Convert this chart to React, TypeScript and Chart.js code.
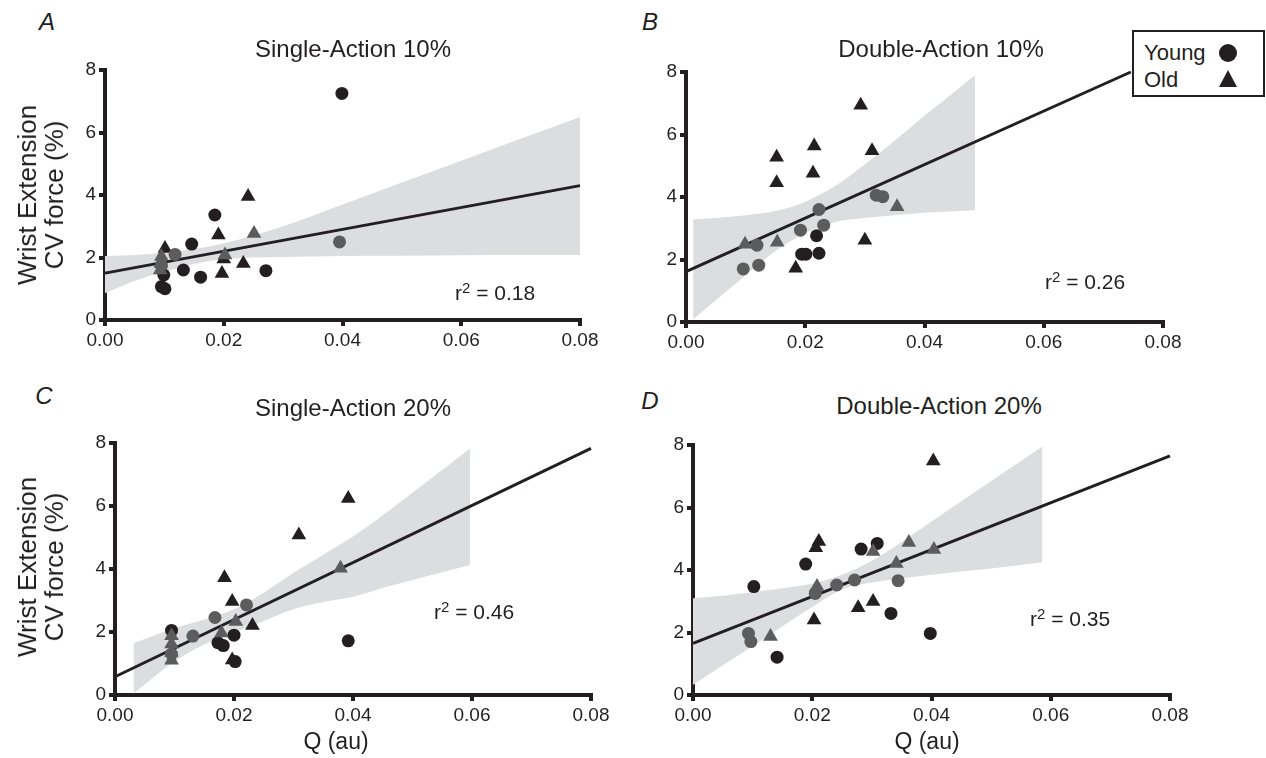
import React, { useEffect, useRef } from 'react';
import { Chart, registerables } from 'chart.js';

Chart.register(...registerables);

type P = [number, number];

// ---------- Panel A: Single-Action 10% ----------
const aYoungBlack: P[] = [[0.0399, 7.25], [0.0185, 3.36], [0.0146, 2.43], [0.0132, 1.6], [0.0161, 1.37], [0.0271, 1.58], [0.0099, 1.44], [0.0095, 1.07], [0.0101, 1.0]];
const aYoungGray: P[] = [[0.0118, 2.1], [0.0395, 2.5], [0.0095, 1.75]];
const aOldBlack: P[] = [[0.0101, 2.29], [0.0241, 3.95], [0.0191, 2.72], [0.0197, 1.49], [0.0233, 1.81], [0.02, 1.95]];
const aOldGray: P[] = [[0.0251, 2.77], [0.0202, 2.08], [0.0095, 2.03], [0.0094, 1.81], [0.0093, 1.6]];
const aFit: P[] = [[0, 1.5], [0.08, 4.3]];
const aBandX = [0, 0.005, 0.01, 0.02, 0.03, 0.04, 0.05, 0.06, 0.07, 0.08];
const aBandUpper = [2.05, 2.08, 2.15, 2.45, 3.0, 3.7, 4.4, 5.1, 5.8, 6.5];
const aBandLower = [0.86, 1.25, 1.55, 1.95, 2.02, 2.05, 2.06, 2.07, 2.08, 2.08];

// ---------- Panel B: Double-Action 10% ----------
const bYoungBlack: P[] = [[0.0219, 2.76], [0.0194, 2.17], [0.0201, 2.17], [0.0223, 2.2]];
const bYoungGray: P[] = [[0.0319, 4.06], [0.033, 4.01], [0.0223, 3.6], [0.0231, 3.1], [0.0192, 2.94], [0.0119, 2.46], [0.0122, 1.82], [0.0096, 1.7]];
const bOldBlack: P[] = [[0.0293, 6.94], [0.0215, 5.63], [0.0312, 5.48], [0.0152, 5.27], [0.0213, 4.76], [0.0152, 4.46], [0.03, 2.62], [0.0184, 1.72]];
const bOldGray: P[] = [[0.0354, 3.69], [0.0153, 2.55], [0.0099, 2.49]];
const bFit: P[] = [[0, 1.61], [0.0746, 8.0]];
const bBandX = [0.0012, 0.005, 0.01, 0.015, 0.02, 0.025, 0.03, 0.035, 0.04, 0.0485];
const bBandUpper = [3.28, 3.33, 3.42, 3.55, 3.85, 4.35, 5.05, 5.8, 6.6, 7.9];
const bBandLower = [0.09, 0.7, 1.5, 2.27, 2.85, 3.2, 3.33, 3.42, 3.5, 3.58];

// ---------- Panel C: Single-Action 20% ----------
const cYoungBlack: P[] = [[0.0392, 1.72], [0.02, 1.9], [0.0173, 1.66], [0.0182, 1.57], [0.0202, 1.06], [0.0095, 2.05]];
const cYoungGray: P[] = [[0.0221, 2.86], [0.0168, 2.46], [0.0131, 1.87], [0.0095, 1.3]];
const cOldBlack: P[] = [[0.0392, 6.24], [0.0309, 5.08], [0.0184, 3.72], [0.0197, 2.97], [0.0231, 2.21], [0.0197, 1.11]];
const cOldGray: P[] = [[0.0379, 4.02], [0.0203, 2.33], [0.0179, 1.97], [0.0095, 1.88], [0.0095, 1.62], [0.0095, 1.35], [0.0095, 1.1]];
const cFit: P[] = [[0, 0.58], [0.08, 7.83]];
const cBandX = [0.0031, 0.01, 0.015, 0.02, 0.025, 0.03, 0.035, 0.04, 0.046, 0.0597];
const cBandUpper = [1.64, 2.12, 2.4, 2.72, 3.25, 3.88, 4.45, 5.03, 5.85, 7.83];
const cBandLower = [0.05, 1.06, 1.6, 1.98, 2.35, 2.72, 2.95, 3.12, 3.45, 4.13];

// ---------- Panel D: Double-Action 20% ----------
const dYoungBlack: P[] = [[0.0309, 4.85], [0.0282, 4.67], [0.0189, 4.19], [0.0102, 3.47], [0.0332, 2.61], [0.0398, 1.97], [0.0141, 1.21]];
const dYoungGray: P[] = [[0.0344, 3.66], [0.0271, 3.68], [0.0241, 3.52], [0.0205, 3.25], [0.0093, 1.97], [0.0097, 1.71]];
const dOldBlack: P[] = [[0.0403, 7.49], [0.0211, 4.91], [0.0206, 4.71], [0.0277, 2.79], [0.0302, 2.99], [0.0203, 2.4]];
const dOldGray: P[] = [[0.0362, 4.88], [0.0404, 4.66], [0.0302, 4.59], [0.0341, 4.21], [0.0208, 3.47], [0.013, 1.87]];
const dFit: P[] = [[0, 1.65], [0.08, 7.65]];
const dBandX = [0, 0.005, 0.01, 0.015, 0.02, 0.025, 0.03, 0.035, 0.04, 0.05, 0.0586];
const dBandUpper = [3.1, 3.18, 3.3, 3.42, 3.57, 3.85, 4.3, 4.9, 5.55, 6.85, 7.95];
const dBandLower = [0.32, 0.95, 1.56, 2.2, 2.82, 3.38, 3.6, 3.73, 3.85, 4.05, 4.25];

// ---------- Axes ----------
const xMin = 0;
const xMax = 0.08;
const xStep = 0.02;
const yMin = 0;
const yMax = 8;
const yStep = 2;

const INK = '#231f20';
const GRAY = '#5c5c5c';
const BAND = '#dcdddf';
const FONT = '"Liberation Sans", Arial, Helvetica, sans-serif';

const PAD_L = 60;
const PAD_T = 25;
const PAD_R = 30;
const PAD_B = 45;

interface PanelCfg {
  area: { l: number; t: number; r: number; b: number };
  youngBlack: P[];
  youngGray: P[];
  oldBlack: P[];
  oldGray: P[];
  fit: P[];
  bandX: number[];
  bandUpper: number[];
  bandLower: number[];
}

const panels: PanelCfg[] = [
  { area: { l: 105, t: 70, r: 580, b: 320 }, youngBlack: aYoungBlack, youngGray: aYoungGray, oldBlack: aOldBlack, oldGray: aOldGray, fit: aFit, bandX: aBandX, bandUpper: aBandUpper, bandLower: aBandLower },
  { area: { l: 686, t: 72, r: 1163, b: 322 }, youngBlack: bYoungBlack, youngGray: bYoungGray, oldBlack: bOldBlack, oldGray: bOldGray, fit: bFit, bandX: bBandX, bandUpper: bBandUpper, bandLower: bBandLower },
  { area: { l: 115, t: 443, r: 591, b: 695 }, youngBlack: cYoungBlack, youngGray: cYoungGray, oldBlack: cOldBlack, oldGray: cOldGray, fit: cFit, bandX: cBandX, bandUpper: cBandUpper, bandLower: cBandLower },
  { area: { l: 693, t: 445, r: 1170, b: 695 }, youngBlack: dYoungBlack, youngGray: dYoungGray, oldBlack: dOldBlack, oldGray: dOldGray, fit: dFit, bandX: dBandX, bandUpper: dBandUpper, bandLower: dBandLower },
];

const pts = (arr: P[]) => arr.map(([x, y]) => ({ x, y }));

function scaleOpts(min: number, max: number, step: number, isX: boolean) {
  return {
    type: 'linear' as const,
    min,
    max,
    afterFit: (s: any) => {
      if (isX) s.height = PAD_B;
      else s.width = PAD_L;
    },
    ticks: {
      stepSize: step,
      autoSkip: false,
      maxRotation: 0,
      padding: isX ? 3 : 3,
      color: INK,
      font: { family: FONT, size: 19 },
      callback: (v: any) => (isX ? Number(v).toFixed(2) : String(Math.round(Number(v)))),
    },
    grid: {
      display: true,
      drawOnChartArea: false,
      drawTicks: true,
      tickLength: 6,
      tickWidth: 4,
      lineWidth: 4,
      tickColor: INK,
      color: INK,
    },
    border: { display: true, width: 4, color: INK },
  };
}

function Panel({ cfg }: { cfg: PanelCfg }) {
  const ref = useRef<HTMLCanvasElement | null>(null);
  const w = cfg.area.r - cfg.area.l + PAD_L + PAD_R;
  const h = cfg.area.b - cfg.area.t + PAD_T + PAD_B;

  useEffect(() => {
    if (!ref.current) return;
    const circle = { showLine: false, pointStyle: 'circle', pointRadius: 6.5, borderWidth: 0, borderColor: 'rgba(0,0,0,0)' };
    const tri = { showLine: false, pointStyle: 'triangle', pointRadius: 8.5, borderWidth: 0, borderColor: 'rgba(0,0,0,0)' };
    const chart = new Chart(ref.current, {
      type: 'line',
      data: {
        datasets: [
          { ...tri, label: 'Old gray', data: pts(cfg.oldGray), backgroundColor: GRAY, pointBackgroundColor: GRAY },
          { ...circle, label: 'Young gray', data: pts(cfg.youngGray), backgroundColor: GRAY, pointBackgroundColor: GRAY },
          { ...tri, label: 'Old', data: pts(cfg.oldBlack), backgroundColor: INK, pointBackgroundColor: INK },
          { ...circle, label: 'Young', data: pts(cfg.youngBlack), backgroundColor: INK, pointBackgroundColor: INK },
          { label: 'fit', data: pts(cfg.fit), borderColor: INK, borderWidth: 3, pointRadius: 0, fill: false, clip: false },
          {
            label: 'ci upper',
            data: cfg.bandX.map((x, i) => ({ x, y: cfg.bandUpper[i] })),
            borderWidth: 0,
            borderColor: 'rgba(0,0,0,0)',
            backgroundColor: BAND,
            pointRadius: 0,
            fill: '+1',
            cubicInterpolationMode: 'monotone',
          },
          {
            label: 'ci lower',
            data: cfg.bandX.map((x, i) => ({ x, y: cfg.bandLower[i] })),
            borderWidth: 0,
            borderColor: 'rgba(0,0,0,0)',
            pointRadius: 0,
            fill: false,
            cubicInterpolationMode: 'monotone',
          },
        ] as any,
      },
      options: {
        responsive: false,
        maintainAspectRatio: false,
        animation: false,
        devicePixelRatio: 1,
        events: [],
        layout: { padding: { left: 0, top: PAD_T, right: PAD_R, bottom: 0 } },
        plugins: { legend: { display: false }, tooltip: { enabled: false }, title: { display: false } },
        scales: {
          x: scaleOpts(xMin, xMax, xStep, true),
          y: scaleOpts(yMin, yMax, yStep, false),
        } as any,
      },
    });
    return () => chart.destroy();
  }, [cfg]);

  return (
    <canvas
      ref={ref}
      width={w}
      height={h}
      style={{ position: 'absolute', left: cfg.area.l - PAD_L, top: cfg.area.t - PAD_T, width: w, height: h }}
    />
  );
}

const abs = (extra: React.CSSProperties): React.CSSProperties => ({
  position: 'absolute',
  fontFamily: FONT,
  color: INK,
  whiteSpace: 'nowrap',
  lineHeight: 1,
  ...extra,
});

function Center({ x, y, size, children, italic }: { x: number; y: number; size: number; children: React.ReactNode; italic?: boolean }) {
  return (
    <div style={abs({ left: x, top: y, fontSize: size, transform: 'translate(-50%, -50%)', fontStyle: italic ? 'italic' : 'normal' })}>
      {children}
    </div>
  );
}

function R2({ x, y, value }: { x: number; y: number; value: string }) {
  return (
    <div style={abs({ left: x, top: y, fontSize: 21, transform: 'translateY(-50%)' })}>
      r<span style={{ fontSize: 15, position: 'relative', top: -7 }}>2</span> = {value}
    </div>
  );
}

function YTitle({ x, y }: { x: number; y: number }) {
  return (
    <div
      style={abs({
        left: x,
        top: y,
        fontSize: 26,
        lineHeight: '27px',
        textAlign: 'center',
        transform: 'translate(-50%, -50%) rotate(-90deg)',
      })}
    >
      Wrist Extension
      <br />
      CV force (%)
    </div>
  );
}

export default function App() {
  return (
    <div style={{ position: 'absolute', left: 0, top: 0, width: 1266, height: 758, background: '#fff', overflow: 'hidden' }}>
      {panels.map((p, i) => (
        <Panel key={i} cfg={p} />
      ))}

      <Center x={47} y={22} size={24} italic>A</Center>
      <Center x={650} y={22} size={24} italic>B</Center>
      <Center x={44} y={396} size={24} italic>C</Center>
      <Center x={650} y={401} size={24} italic>D</Center>

      <Center x={353} y={49} size={24}>Single-Action 10%</Center>
      <Center x={941} y={49} size={24}>Double-Action 10%</Center>
      <Center x={353} y={408} size={24}>Single-Action 20%</Center>
      <Center x={939} y={406} size={24}>Double-Action 20%</Center>

      <R2 x={455} y={292} value="0.18" />
      <R2 x={1045} y={281} value="0.26" />
      <R2 x={434} y={611} value="0.46" />
      <R2 x={1030} y={618} value="0.35" />

      <YTitle x={41} y={195} />
      <YTitle x={41} y={567} />

      <Center x={336} y={741} size={23}>Q (au)</Center>
      <Center x={927} y={741} size={23}>Q (au)</Center>

      <div style={{ position: 'absolute', left: 1132, top: 30, width: 133, height: 67, border: `2.5px solid ${INK}`, boxSizing: 'border-box', background: '#fff' }}>
        <div style={abs({ left: 10, top: 21, fontSize: 22, transform: 'translateY(-50%)' })}>Young</div>
        <div style={abs({ left: 10, top: 48, fontSize: 22, transform: 'translateY(-50%)' })}>Old</div>
        <div style={{ position: 'absolute', left: 85, top: 12, width: 18, height: 18, borderRadius: '50%', background: INK }} />
        <div style={{ position: 'absolute', left: 85, top: 38, width: 0, height: 0, borderLeft: '9px solid transparent', borderRight: '9px solid transparent', borderBottom: `17px solid ${INK}` }} />
      </div>
    </div>
  );
}
